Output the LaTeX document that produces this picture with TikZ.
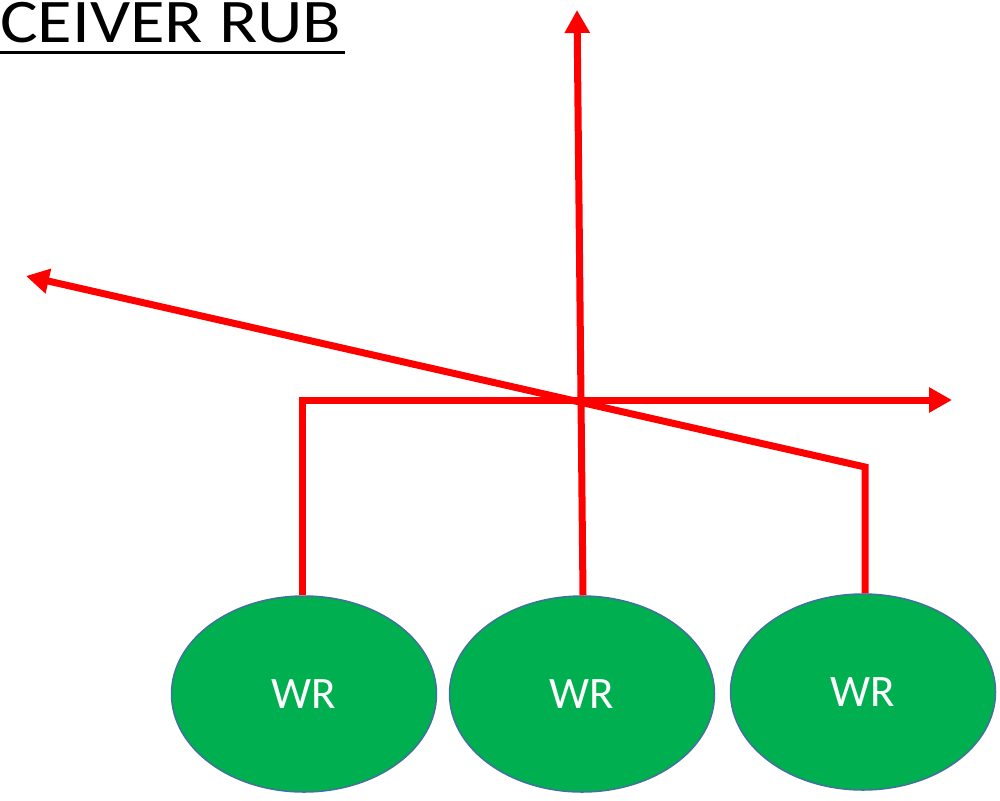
\documentclass[tikz,border=0pt]{standalone}
\usepackage{fontspec}
\setmainfont{Carlito}
\usetikzlibrary{arrows.meta,shapes.geometric,calc}
\definecolor{wrgreen}{HTML}{00B050}
\definecolor{wrborder}{HTML}{41719C}
\begin{document}
\begin{tikzpicture}[x=1pt,y=-1pt,
  wr/.style={ellipse,draw=wrborder,line width=1.5pt,fill=wrgreen,minimum width=265pt,minimum height=196pt,inner sep=0pt,text=white,font=\fontsize{45}{50}\selectfont},
  route/.style={draw=red,line width=7pt,line cap=butt,line join=miter},
  routearrow/.style={route,-{Triangle[length=23pt,width=24pt]}}]
\useasboundingbox (0,0) rectangle (1000,800);
\node[anchor=base west,inner sep=0pt,xscale=1.14,font=\fontsize{62}{64}\selectfont] (title) at (0,43) {CEIVER RUB};
\draw[line width=3pt] ($(title.base west)+(0,10)$) -- ($(title.base east)+(3,10)$);
\node[wr] (wr1) at (304,694) {WR};
\node[wr] (wr2) at (582,694) {WR};
\node[wr] (wr3) at (863,692) {WR};
\coordinate (c1) at (302,400);
\coordinate (e1) at (952,400);
\coordinate (e2) at (577,10);
\coordinate (c3) at (865,467);
\coordinate (e3) at (26,276);
\draw[routearrow] (wr1.north -| c1) -- (c1) -- (e1);
\draw[routearrow] (wr2.north) ++(1,0) -- (e2);
\draw[routearrow] (wr3.north -| c3) -- (c3) -- (e3);
\end{tikzpicture}
\end{document}
